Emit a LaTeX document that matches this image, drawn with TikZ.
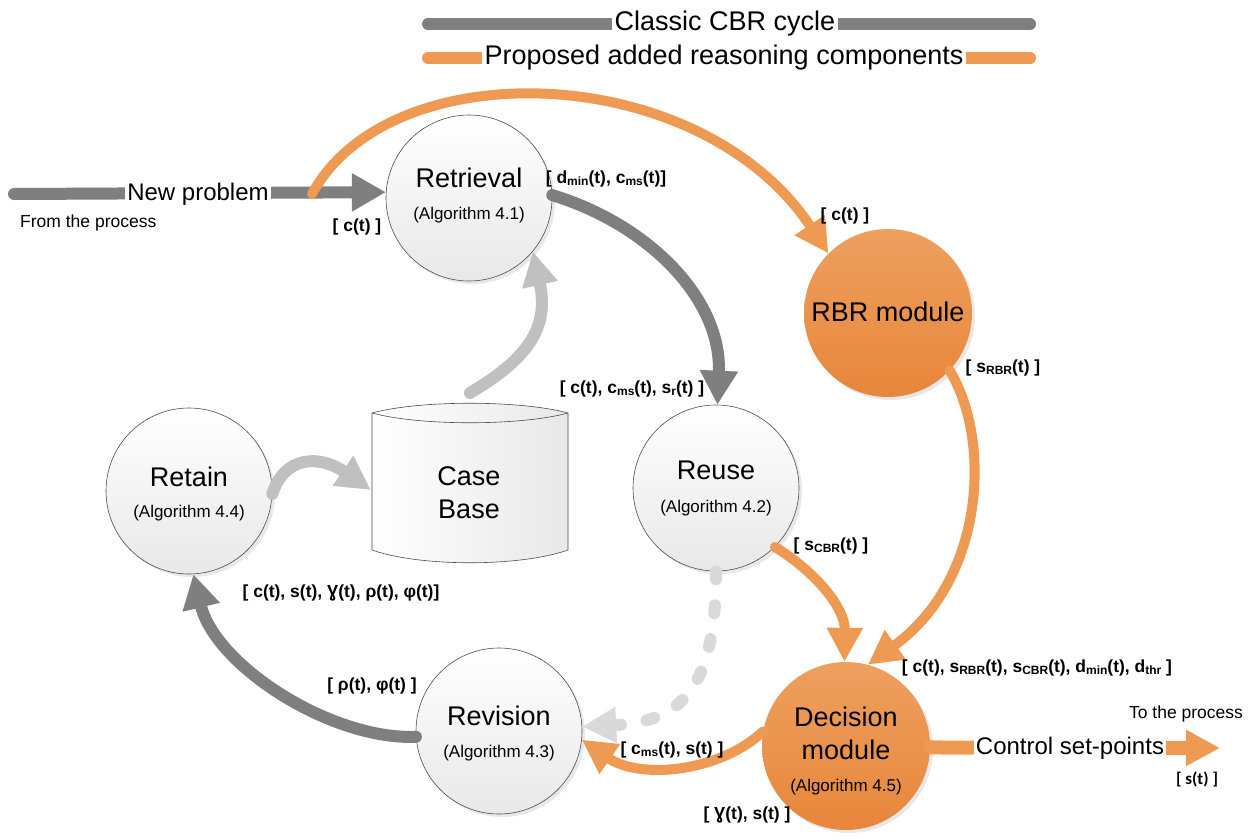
\documentclass[tikz,border=0pt]{standalone}
\usepackage{fontspec}
\setmainfont{Liberation Sans}
\newfontfamily\carl{Carlito}
\usetikzlibrary{arrows.meta,shadows}
\definecolor{cgray}{HTML}{7F7F7F}
\definecolor{corange}{HTML}{EE9A53}
\definecolor{clight}{HTML}{C0C0C0}
\definecolor{cdash}{HTML}{D9D9D9}
\definecolor{ctop}{HTML}{EDA05F}
\definecolor{cbot}{HTML}{E8863B}
\newcommand\sbx[1]{\raisebox{-1.5pt}{\fontsize{12}{13}\selectfont #1}}
\begin{document}
\begin{tikzpicture}[x=1pt,y=-1pt,
  proc/.style={circle, draw=black!70, line width=0.6pt, minimum size=166pt, inner sep=0pt,
    top color=white, bottom color=black!9,
    drop shadow={shadow xshift=3pt, shadow yshift=-3pt, opacity=0.18}},
  oproc/.style={circle, minimum size=168pt, inner sep=0pt, top color=ctop, bottom color=cbot,
    drop shadow={shadow xshift=3pt, shadow yshift=-3pt, opacity=0.18}},
  ttl/.style={font=\fontsize{27}{33}\selectfont, inner sep=0pt, align=center},
  alg/.style={font=\fontsize{17}{20}\selectfont, inner sep=0pt},
  lbl/.style={font=\bfseries\fontsize{17.5}{20}\selectfont, inner sep=0pt},
  txt/.style={font=\fontsize{17.5}{20}\selectfont, inner sep=0pt},
  big/.style={font=\fontsize{24}{28}\selectfont, fill=white, inner xsep=2pt, inner ysep=1pt},
  leg/.style={font=\fontsize{27}{30}\selectfont, fill=white, inner xsep=3pt, inner ysep=1pt},
  garrow/.style={draw=cgray, line width=12pt, line cap=round, -{Triangle[length=34pt,width=36pt]}},
  larrow/.style={draw=clight, line width=12pt, line cap=round, -{Triangle[length=34pt,width=34pt]}},
  darrow/.style={draw=cdash, line width=12pt, line cap=round, dash pattern=on 8pt off 26pt, -{Triangle[length=34pt,width=34pt]}},
  oarrow/.style={draw=corange, line width=10pt, line cap=round, -{Triangle[length=34pt,width=34pt]}},
  gline/.style={draw=cgray, line width=12pt, line cap=round},
  oline/.style={draw=corange, line width=12pt, line cap=round}
]
\fill[white] (0,0) rectangle (1258,838);
\useasboundingbox (0,0) rectangle (1258,838);

% legend
\coordinate (lg1a) at (428,24); \coordinate (lg1b) at (1030,24);
\coordinate (lg2a) at (428,58); \coordinate (lg2b) at (1030,58);
\draw[gline] (lg1a) -- (lg1b);
\draw[oline] (lg2a) -- (lg2b);
\node[leg] (leg1) at (725,24) {Classic CBR cycle};
\node[leg] (leg2) at (724,58) {Proposed added reasoning components};

% nodes
\node[proc] (ret) at (469,198) {};
\node[proc] (reu) at (716,488) {};
\node[proc] (rtn) at (189,491) {};
\node[proc] (rev) at (499,731) {};
\node[oproc] (rbr) at (888,313) {};
\node[oproc] (dec) at (846,746) {};

% case base
\path[draw=black!70, line width=0.6pt, left color=white, right color=black!9]
  (372,413) .. controls (420,400) and (520,400) .. (568,413) -- (568,550)
  .. controls (520,567) and (420,567) .. (372,550) -- cycle;
\draw[black!70, line width=0.6pt] (372,413) .. controls (420,426) and (520,426) .. (568,413);
\node[ttl] (cbt) at (469,493) {Case\\Base};
\coordinate (cbtop) at (470,393);
\coordinate (cbleft) at (371,490);

% titles
\node[ttl] (retT) at (469,178) {Retrieval};
\node[alg] (retA) at (469,215) {(Algorithm 4.1)};
\node[ttl] (reuT) at (716,470) {Reuse};
\node[alg] (reuA) at (716,508) {(Algorithm 4.2)};
\node[ttl] (rtnT) at (189,477) {Retain};
\node[alg] (rtnA) at (189,513) {(Algorithm 4.4)};
\node[ttl] (revT) at (499,716) {Revision};
\node[alg] (revA) at (499,753) {(Algorithm 4.3)};
\node[ttl] (rbrT) at (888,312) {RBR module};
\node[ttl] (decT) at (846,733) {Decision\\module};
\node[alg] (decA) at (846,787) {(Algorithm 4.5)};

% new problem input
\coordinate (np0) at (14,194);
\coordinate (np1) at (312,194);
\draw[garrow] (np0) -- (ret.176);
\node[big] (npt) at (198,194) {New problem};
\node[txt, anchor=west] (from) at (20,223) {From the process};

% connectors
\draw[oarrow] (np1) .. controls (390,50) and (700,60) .. (rbr.135);
\draw[garrow] (ret.2) .. controls (650,225) and (722,300) .. (reu.89);
\draw[larrow] (cbtop) .. controls (525,360) and (550,330) .. (ret.-40);
\draw[larrow] (rtn.-2) .. controls (285,455) and (320,455) .. (cbleft);
\draw[garrow] (rev.184) .. controls (330,740) and (215,665) .. (rtn.-87);
\draw[darrow] (reu.-90) .. controls (716,690) and (680,722) .. (rev.3);
\draw[oarrow] (reu.-45) .. controls (820,575) and (845,610) .. (dec.91);
\draw[oarrow] (rbr.-43) .. controls (992,440) and (985,580) .. (dec.75);
\draw[oarrow] (dec.170) .. controls (720,772) and (640,780) .. (rev.-6);
\coordinate (out) at (1220,748);
\draw[oarrow, line width=14pt] (dec.-1) -- (out);
\node[big] (ctl) at (1070,748) {Control set-points};
\node[txt] (tothe) at (1186,714) {To the process};

% labels
\node[lbl] (l1) at (357,227) {[ c(t) ]};
\node[lbl] (l2) at (606,179) {[ d\sbx{min}(t), c\sbx{ms}(t)]};
\node[lbl] (l3) at (845,216) {[ c(t) ]};
\node[lbl] (l4) at (1003,368) {[ s\sbx{RBR}(t) ]};
\node[lbl] (l5) at (632,389) {[ c(t), c\sbx{ms}(t), s\sbx{r}(t) ]};
\node[lbl] (l6) at (831,546) {[ s\sbx{CBR}(t) ]};
\node[lbl] (l7) at (341,593) {[ c(t), s(t), Ɣ(t), ρ(t), φ(t)]};
\node[lbl] (l8) at (372,686) {[ ρ(t), φ(t) ]};
\node[lbl] (l9) at (1037,668) {[ c(t), s\sbx{RBR}(t), s\sbx{CBR}(t), d\sbx{min}(t), d\sbx{thr} ]};
\node[lbl] (l10) at (672,750) {[ c\sbx{ms}(t), s(t) ]};
\node[lbl] (l11) at (747,815) {[ Ɣ(t), s(t) ]};
\node[font=\carl\bfseries\fontsize{17}{19}\selectfont, inner sep=0pt] (l12) at (1197,779) {[ s(t) ]};
\end{tikzpicture}
\end{document}
